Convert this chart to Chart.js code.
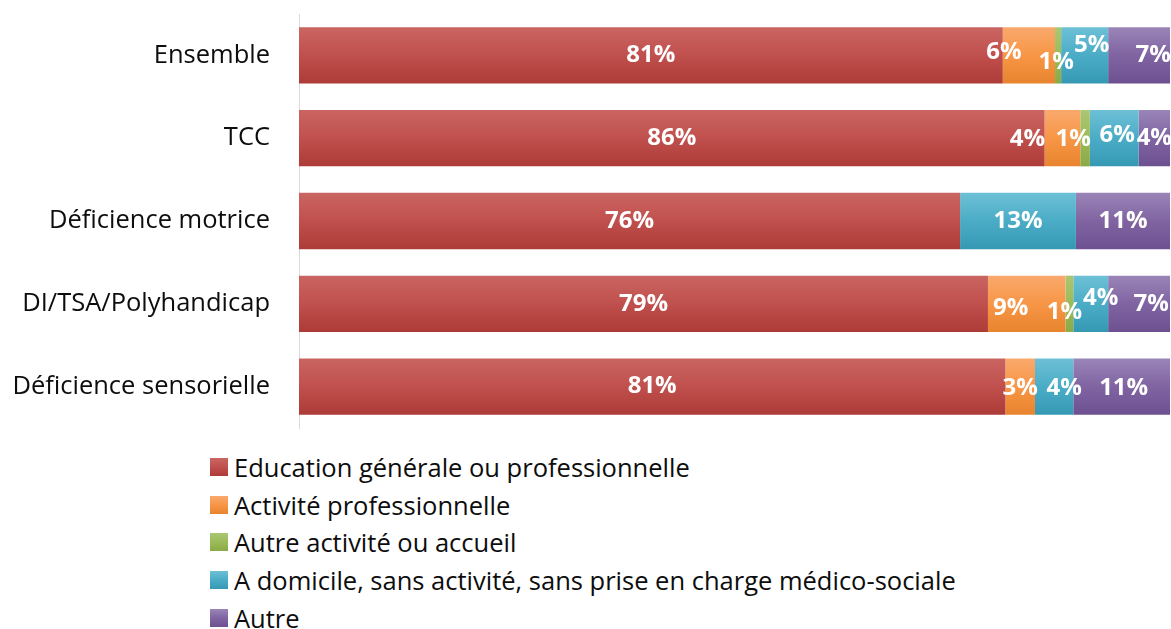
<!DOCTYPE html>
<html>
<head>
<meta charset="utf-8">
<script src="https://cdn.jsdelivr.net/npm/chart.js@4"></script>
<style>
  body { margin: 0; background: #fff; font-family: 'Open Sans', sans-serif; }
  #wrap { position: absolute; left: 0; top: 0; width: 1171px; height: 440px; }
  #legend { position: absolute; left: 210px; top: 448px; }
  .item { height: 37.8px; display: flex; align-items: center; font-size: 25.5px; color: #0d0d0d; white-space: nowrap; }
  .box { width: 18px; height: 18px; margin-right: 6px; flex: none; }
</style>
</head>
<body>
<div id="wrap"><canvas id="chart"></canvas></div>
<div id="legend"></div>
<script>
// Categories (rows, top to bottom)
var categories = ['Ensemble', 'TCC', 'Déficience motrice', 'DI/TSA/Polyhandicap', 'Déficience sensorielle'];

// Series names (legend order)
var seriesNames = [
  'Education générale ou professionnelle',
  'Activité professionnelle',
  'Autre activité ou accueil',
  'A domicile, sans activité, sans prise en charge médico-sociale',
  'Autre'
];

// Shares in %
var education     = [80.8, 85.6, 75.9, 79.1, 81.1];
var activitePro   = [6.0, 4.1, 0, 8.9, 3.4];
var autreActivite = [0.7, 1.1, 0, 0.9, 0];
var domicile      = [5.4, 5.6, 13.3, 4.0, 4.4];
var autre         = [7.1, 3.6, 10.8, 7.1, 11.1];

// top / middle / bottom colours of each series' gradient
var colors = [
  ['#ca6562', '#c0504d', '#ad3b38'],
  ['#f9a96d', '#f79646', '#e8842e'],
  ['#abc672', '#9bbb59', '#89aa47'],
  ['#6dc0d6', '#4bacc6', '#3699b4'],
  ['#9a85b7', '#8064a2', '#6d5090']
];

var barPct = 0.68;

function fillFor(i) {
  return function(context) {
    var chart = context.chart;
    var y = chart.scales && chart.scales.y;
    if (!chart.chartArea || !y || context.type !== 'data') return colors[i][1];
    var yc = y.getPixelForValue(context.dataIndex);
    var half = (y.height / categories.length) * barPct / 2;
    var g = chart.ctx.createLinearGradient(0, yc - half, 0, yc + half);
    g.addColorStop(0, colors[i][0]);
    g.addColorStop(0.5, colors[i][1]);
    g.addColorStop(1, colors[i][2]);
    return g;
  };
}

var seriesData = [education, activitePro, autreActivite, domicile, autre];

// hand placement of some labels in the original (dx, dy), key = row,series
var nudge = {
  '0,1': [-25, -3], '0,2': [-2, 7], '0,3': [7, -10], '0,4': [14, 0],
  '1,1': [-35, 1], '1,2': [-12, 1], '1,3': [3, -3],
  '3,1': [-16, 4], '3,2': [-5, 8], '3,3': [10, -6], '3,4': [12, 0],
  '4,3': [10, 2], '4,1': [0, 2], '4,4': [2, 2]
};

// white percentage labels inside segments
var segmentLabels = {
  id: 'segmentLabels',
  afterDatasetsDraw: function(chart) {
    var ctx = chart.ctx;
    ctx.save();
    ctx.font = 'bold 24px "Open Sans", sans-serif';
    ctx.fillStyle = '#fff';
    ctx.textAlign = 'center';
    ctx.textBaseline = 'middle';
    chart.data.datasets.forEach(function(ds, i) {
      chart.getDatasetMeta(i).data.forEach(function(bar, j) {
        var v = ds.data[j];
        if (!v) return;
        var n = nudge[j + ',' + i] || [0, 0];
        var cx = (bar.x + bar.base) / 2 + n[0];
        ctx.fillText(Math.round(v) + '%', cx, bar.y + n[1]);
      });
    });
    ctx.restore();
  }
};

var chart = new Chart(document.getElementById('chart'), {
  type: 'bar',
  data: {
    labels: categories,
    datasets: seriesData.map(function(d, i) {
      return {
        label: seriesNames[i],
        data: d,
        backgroundColor: fillFor(i),
        borderWidth: 0,
        barPercentage: barPct,
        categoryPercentage: 1
      };
    })
  },
  options: {
    indexAxis: 'y',
    responsive: true,
    maintainAspectRatio: false,
    animation: false,
    layout: { padding: { top: 14, bottom: 12, left: 0, right: 1 } },
    scales: {
      x: { stacked: true, min: 0, max: 100, display: false },
      y: {
        stacked: true,
        grid: { display: false, drawTicks: false },
        border: { display: true, color: '#d9d9d9', width: 1 },
        ticks: { color: '#0d0d0d', font: { size: 25.5, family: 'Open Sans' }, padding: 29 },
        afterFit: function(scale) {
          scale.width = 299;
          scale.paddingTop = 0;
          scale.paddingBottom = 0;
        }
      }
    },
    plugins: { legend: { display: false }, tooltip: { enabled: false } }
  },
  plugins: [segmentLabels]
});

// legend as a vertical list below the chart
var legend = document.getElementById('legend');
seriesNames.forEach(function(name, i) {
  var row = document.createElement('div');
  row.className = 'item';
  var box = document.createElement('span');
  box.className = 'box';
  box.style.background = 'linear-gradient(' + colors[i][0] + ',' + colors[i][1] + ',' + colors[i][2] + ')';
  row.appendChild(box);
  row.appendChild(document.createTextNode(name));
  legend.appendChild(row);
});
</script>
</body>
</html>
